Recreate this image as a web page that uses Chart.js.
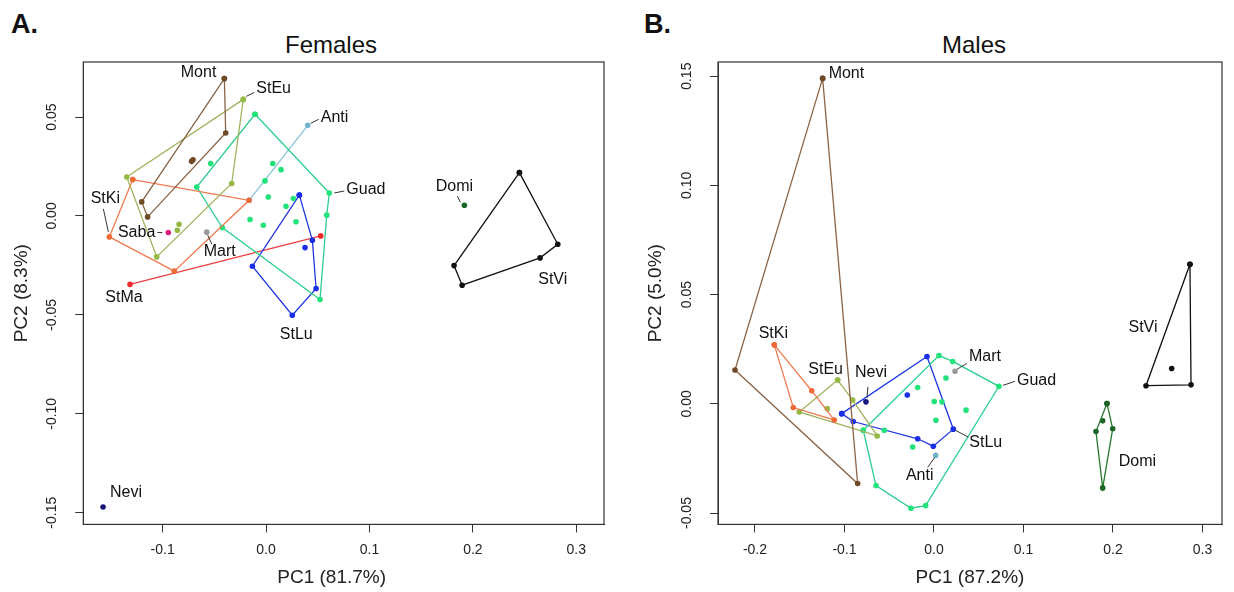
<!DOCTYPE html>
<html>
<head>
<meta charset="utf-8">
<script src="https://cdn.jsdelivr.net/npm/chart.js@4.4.1/dist/chart.umd.min.js"></script>
<style>
  body { margin: 0; background: #fff; width: 1234px; height: 592px; position: relative; overflow: hidden;
         font-family: "Liberation Sans", Arial, sans-serif; color: #111; }
  canvas { position: absolute; top: 0; }
  .tag { position: absolute; font-weight: bold; font-size: 27px; line-height: 30px; }
  .ttl { position: absolute; font-size: 24px; line-height: 28px; transform: translateX(-50%); white-space: nowrap; }
</style>
</head>
<body>
<div class="tag" style="left:11px;top:9px">A.</div>
<div class="ttl" style="left:331px;top:31px">Females</div>
<div class="tag" style="left:644px;top:9px">B.</div>
<div class="ttl" style="left:974px;top:31px">Males</div>
<canvas id="fem" width="617" height="592" style="left:0"></canvas>
<canvas id="mal" width="617" height="592" style="left:617px"></canvas>
<script>
// ---- Females (PC1 x, PC2 y) ----
const fMontHull = [[-0.0403, 0.0694], [-0.0390, 0.0419], [-0.1145, -0.0005], [-0.1202, 0.0071]];
const fMontIn = [[-0.0706, 0.0284], [-0.0720, 0.0276]];
const fStEuHull = [[-0.0220, 0.0589], [-0.1347, 0.0197], [-0.1057, -0.0207], [-0.0332, 0.0164]];
const fStEuIn = [[-0.0841, -0.0042], [-0.0858, -0.0072]];
const fStKiHull = [[-0.1289, 0.0184], [-0.0164, 0.0079], [-0.0887, -0.0279], [-0.1515, -0.0106]];
const fAnti = [[0.0403, 0.0458], [-0.0164, 0.0079]];
const fSaba = [[-0.0945, -0.0084]];
const fMart = [[-0.0573, -0.0082]];
const fStMa = [[-0.1315, -0.0346], [0.0529, -0.0101]];
const fGuadHull = [[-0.0106, 0.0514], [0.0612, 0.0116], [0.0587, 0.0004], [0.0522, -0.0422], [-0.0423, -0.0059], [-0.0670, 0.0146]];
const fGuadIn = [[-0.0535, 0.0265], [-0.0010, 0.0177], [0.0065, 0.0265], [0.0145, 0.0234], [0.0022, 0.0096],
                 [0.0193, 0.0049], [0.0290, -0.0030], [-0.0155, -0.0018], [-0.0026, -0.0047], [0.0264, 0.0088]];
const fStLuHull = [[0.0322, 0.0105], [0.0448, -0.0123], [0.0484, -0.0367], [0.0254, -0.0502], [-0.0132, -0.0254]];
const fStLuIn = [[0.0377, -0.0160]];
const fDomi = [[0.1918, 0.0054]];
const fStViHull = [[0.2450, 0.0219], [0.2821, -0.0143], [0.2650, -0.0212], [0.1896, -0.0350], [0.1818, -0.0251]];
const fNevi = [[-0.1576, -0.1471]];

// ---- Males ----
const mMontHull = [[-0.1244, 0.1490], [-0.2223, 0.0155], [-0.0853, -0.0365]];
const mStKiHull = [[-0.1784, 0.0270], [-0.1572, -0.0017], [-0.1114, -0.0074], [-0.1366, 0.0060]];
const mStEuHull = [[-0.1076, 0.0109], [-0.1505, -0.0037], [-0.0634, -0.0147], [-0.0908, 0.0017]];
const mStEuIn = [[-0.1192, -0.0022]];
const mNevi = [[-0.0760, 0.0009]];
const mStLuHull = [[-0.1031, -0.0045], [-0.0078, 0.0217], [0.0216, -0.0116], [-0.0008, -0.0194], [-0.0182, -0.0160], [-0.0902, -0.0081]];
const mStLuIn = [[-0.0298, 0.0040]];
const mGuadHull = [[-0.0790, -0.0121], [0.0056, 0.0221], [0.0209, 0.0194], [0.0726, 0.0080], [-0.0093, -0.0466], [-0.0257, -0.0478], [-0.0648, -0.0374]];
const mGuadIn = [[-0.0182, 0.0075], [0.0134, 0.0118], [0.0003, 0.0011], [0.0089, 0.0009], [0.0358, -0.0029],
                 [0.0022, -0.0075], [-0.0238, -0.0198], [-0.0555, -0.0121]];
const mMart = [[0.0235, 0.0149]];
const mAnti = [[0.0019, -0.0236]];
const mStViHull = [[0.2860, 0.0639], [0.2872, 0.0087], [0.2369, 0.0083]];
const mStViIn = [[0.2656, 0.0162]];
const mDomiHull = [[0.1933, 0.0001], [0.1997, -0.0114], [0.1885, -0.0385], [0.1810, -0.0127]];
const mDomiIn = [[0.1885, -0.0078]];

// ---- axes ----
const fXTicks = [-0.1, 0, 0.1, 0.2, 0.3];
const fYTicks = [-0.15, -0.10, -0.05, 0, 0.05];
const mXTicks = [-0.2, -0.1, 0, 0.1, 0.2, 0.3];
const mYTicks = [-0.05, 0, 0.05, 0.10, 0.15];
const fXRange = [-0.1767, 0.3268];
const fYRange = [-0.1559, 0.0778];
const mXRange = [-0.2413, 0.3218];
const mYRange = [-0.0552, 0.1565];

// line colour, dot colour
const colors = {
    Mont: ['#8a6446', '#6e4a26'],
    StEu: ['#a3b25e', '#96b844'],
    StKi: ['#ee7c52', '#f06a38'],
    Anti: ['#88c4d6', '#72b4cc'],
    Guad: ['#2ccf8e', '#22e27a'],
    StLu: ['#2038e0', '#1a2ee8'],
    StMa: ['#ee4040', '#f02a2a'],
    Saba: ['#e0207c', '#e0207c'],
    Mart: ['#999999', '#9a9a9a'],
    Nevi: ['#16167a', '#16167a'],
    Domi: ['#267a30', '#1d6626'],
    StVi: ['#111111', '#111111']
};

function toPts(arr) { return arr.map(p => ({ x: p[0], y: p[1] })); }

// one outline (closed if 3+ points) plus its inner points
function group(name, outline, inner) {
    const [line, dot] = colors[name];
    const pts = toPts(outline);
    if (pts.length > 2) pts.push({ ...pts[0] });
    const base = { pointRadius: 2.8, pointBackgroundColor: dot, pointBorderColor: dot, pointBorderWidth: 0 };
    const sets = [{ ...base, data: pts, showLine: pts.length > 1, borderColor: line, borderWidth: 1.3 }];
    if (inner) sets.push({ ...base, data: toPts(inner), showLine: false });
    return sets;
}

const femSets = [
    group('StVi', fStViHull), group('Domi', fDomi), group('Nevi', fNevi),
    group('Mont', fMontHull, fMontIn), group('StEu', fStEuHull, fStEuIn), group('StKi', fStKiHull),
    group('Guad', fGuadHull, fGuadIn), group('StLu', fStLuHull, fStLuIn), group('Anti', fAnti),
    group('StMa', fStMa), group('Saba', fSaba), group('Mart', fMart)
].flat();

const malSets = [
    group('StVi', mStViHull, mStViIn), group('Domi', mDomiHull, mDomiIn),
    group('Mont', mMontHull), group('StKi', mStKiHull), group('StEu', mStEuHull, mStEuIn),
    group('Guad', mGuadHull, mGuadIn), group('StLu', mStLuHull, mStLuIn),
    group('Nevi', mNevi), group('Mart', mMart), group('Anti', mAnti)
].flat();

// text labels: pixel offsets from a point, optional leader line
const fLabels = [
    { text: 'Mont', at: fMontHull[0], dx: -8, dy: -6, align: 'right' },
    { text: 'StEu', at: fStEuHull[0], dx: 13, dy: -11, align: 'left', lead: [3, -3, 11, -7] },
    { text: 'Anti', at: fAnti[0], dx: 13, dy: -8, align: 'left', lead: [3, -2, 11, -6] },
    { text: 'Guad', at: fGuadHull[1], dx: 17, dy: -3, align: 'left', lead: [5, 0, 15, -2] },
    { text: 'StKi', at: fStKiHull[3], dx: -4, dy: -38, align: 'center', lead: [-6, -28, -1, -5] },
    { text: 'Saba', at: fSaba[0], dx: -13, dy: 0, align: 'right', lead: [-11, 0, -6, 0] },
    { text: 'Mart', at: fMart[0], dx: 13, dy: 19, align: 'center', lead: [1, 3, 5, 12] },
    { text: 'StMa', at: fStMa[0], dx: -6, dy: 13, align: 'center' },
    { text: 'StLu', at: fStLuHull[3], dx: 4, dy: 19, align: 'center' },
    { text: 'Nevi', at: fNevi[0], dx: 7, dy: -14, align: 'left' },
    { text: 'Domi', at: fDomi[0], dx: -10, dy: -19, align: 'center', lead: [-7, -9, -4, -3] },
    { text: 'StVi', at: fStViHull[1], dx: -5, dy: 35, align: 'center' }
];
const mLabels = [
    { text: 'Mont', at: mMontHull[0], dx: 6, dy: -5, align: 'left' },
    { text: 'StKi', at: mStKiHull[0], dx: -1, dy: -11, align: 'center' },
    { text: 'StEu', at: mStEuHull[0], dx: -12, dy: -10, align: 'center' },
    { text: 'Nevi', at: mNevi[0], dx: 5, dy: -29, align: 'center', lead: [2, -15, 1, -4] },
    { text: 'Mart', at: mMart[0], dx: 14, dy: -15, align: 'left', lead: [2, -2, 12, -8] },
    { text: 'Guad', at: mGuadHull[3], dx: 18, dy: -6, align: 'left', lead: [4, -1, 16, -5] },
    { text: 'StLu', at: mStLuHull[2], dx: 16, dy: 13, align: 'left', lead: [2, 1, 15, 8] },
    { text: 'Anti', at: mAnti[0], dx: -16, dy: 20, align: 'center', lead: [-1, 2, -8, 12] },
    { text: 'StVi', at: mStViHull[2], dx: -3, dy: -58, align: 'center' },
    { text: 'Domi', at: mDomiHull[2], dx: 16, dy: -26, align: 'left' }
];

const FONT = '"Liberation Sans", Arial, sans-serif';

// box, rotated y tick labels, x title, point names
const decor = {
    id: 'decor',
    afterDraw(chart, args, opts) {
        const { ctx, chartArea: a, scales: { x, y } } = chart;
        ctx.save();
        ctx.strokeStyle = '#333';
        ctx.lineWidth = 1.2;
        ctx.strokeRect(a.left, a.top, a.right - a.left, a.bottom - a.top);

        ctx.fillStyle = '#222';
        ctx.font = '14px ' + FONT;
        ctx.textAlign = 'center';
        ctx.textBaseline = 'middle';
        opts.yTicks.forEach(v => {
            ctx.save();
            ctx.translate(a.left - 31, y.getPixelForValue(v));
            ctx.rotate(-Math.PI / 2);
            ctx.fillText(v.toFixed(2), 0, 0);
            ctx.restore();
        });

        ctx.font = '19px ' + FONT;
        ctx.fillText(opts.xTitle, (a.left + a.right) / 2 + opts.xTitleShift, 578);

        ctx.font = '16px ' + FONT;
        ctx.fillStyle = '#111';
        ctx.strokeStyle = '#333';
        ctx.lineWidth = 1;
        opts.labels.forEach(l => {
            const px = x.getPixelForValue(l.at[0]);
            const py = y.getPixelForValue(l.at[1]);
            if (l.lead) {
                ctx.beginPath();
                ctx.moveTo(px + l.lead[0], py + l.lead[1]);
                ctx.lineTo(px + l.lead[2], py + l.lead[3]);
                ctx.stroke();
            }
            ctx.textAlign = l.align;
            ctx.fillText(l.text, px + l.dx, py + l.dy);
        });
        ctx.restore();
    }
};

function makeChart(id, sets, c) {
    new Chart(document.getElementById(id), {
        type: 'scatter',
        data: { datasets: sets },
        options: {
            responsive: false,
            animation: false,
            events: [],
            layout: { padding: { top: 62, right: c.padRight, left: 0, bottom: 0 } },
            plugins: {
                legend: { display: false },
                tooltip: { enabled: false },
                decor: { yTicks: c.yTicks, labels: c.labels, xTitle: c.xTitle, xTitleShift: c.xTitleShift }
            },
            scales: {
                x: {
                    type: 'linear', min: c.xRange[0], max: c.xRange[1],
                    afterBuildTicks: s => { s.ticks = c.xTicks.map(v => ({ value: v })); },
                    afterFit: s => { s.height = 67.6; },
                    ticks: { callback: v => Number(v).toFixed(1), color: '#222', padding: 9, font: { family: FONT, size: 14 } },
                    grid: { drawOnChartArea: false, drawTicks: true, tickLength: 8, color: '#333' },
                    border: { display: true, color: '#333' }
                },
                y: {
                    type: 'linear', min: c.yRange[0], max: c.yRange[1],
                    afterBuildTicks: s => { s.ticks = c.yTicks.map(v => ({ value: v })); },
                    afterFit: s => { s.width = c.yWidth; },
                    ticks: { display: false },
                    grid: { drawOnChartArea: false, drawTicks: true, tickLength: 8, color: '#333' },
                    border: { display: true, color: '#333' },
                    title: { display: true, text: c.yTitle, color: '#222', font: { family: FONT, size: 19 }, padding: { top: c.yTitlePad, bottom: 0 } }
                }
            }
        },
        plugins: [decor]
    });
}

makeChart('fem', femSets, {
    xRange: fXRange, yRange: fYRange, xTicks: fXTicks, yTicks: fYTicks,
    xTitle: 'PC1 (81.7%)', yTitle: 'PC2 (8.3%)', labels: fLabels, xTitleShift: -12,
    padRight: 13, yWidth: 83.3, yTitlePad: 10.6
});
makeChart('mal', malSets, {
    xRange: mXRange, yRange: mYRange, xTicks: mXTicks, yTicks: mYTicks,
    xTitle: 'PC1 (87.2%)', yTitle: 'PC2 (5.0%)', labels: mLabels, xTitleShift: 0,
    padRight: 12, yWidth: 101, yTitlePad: 27.6
});
</script>
</body>
</html>
